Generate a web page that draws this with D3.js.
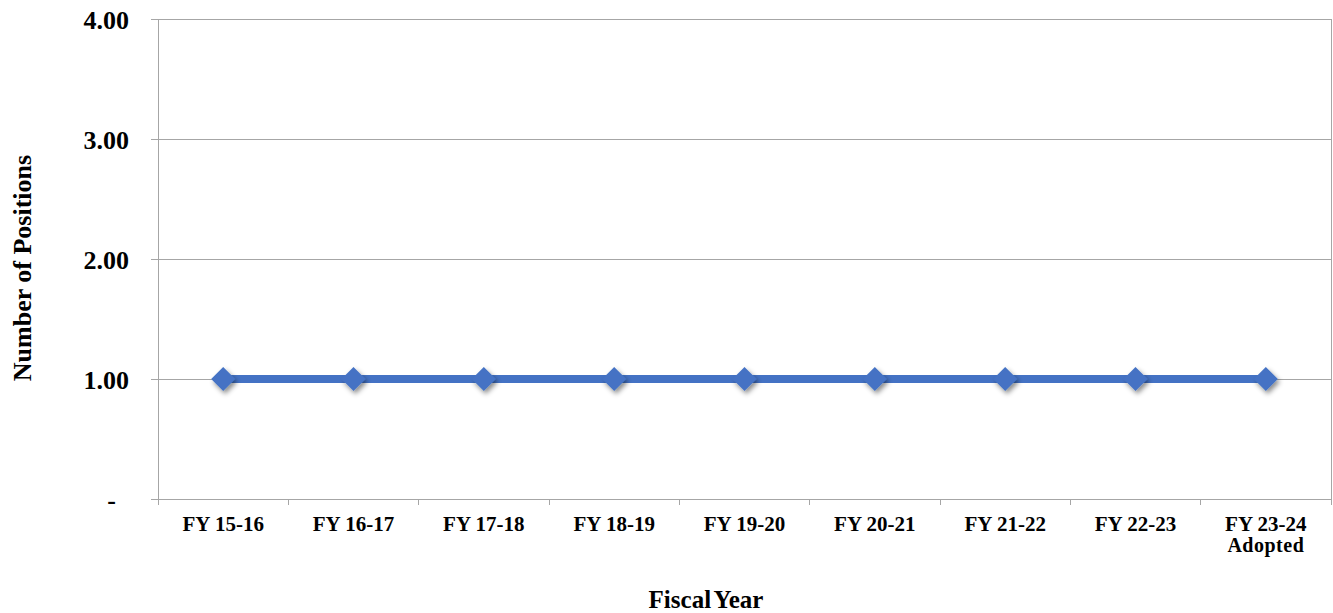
<!DOCTYPE html>
<html>
<head>
<meta charset="utf-8">
<script src="https://cdn.jsdelivr.net/npm/d3@7"></script>
<style>
  html, body { margin: 0; padding: 0; background: #fff; }
  svg { display: block; }
  text { font-family: "Liberation Serif", "Times New Roman", serif; font-weight: bold; fill: #000; }
</style>
</head>
<body>
<svg id="chart" width="1333" height="613"></svg>
<script>
// Positions per fiscal year
const categories = ["FY 15-16", "FY 16-17", "FY 17-18", "FY 18-19", "FY 19-20",
                    "FY 20-21", "FY 21-22", "FY 22-23", "FY 23-24\nAdopted"];
const positions = [1, 1, 1, 1, 1, 1, 1, 1, 1];
const yTicks = [0, 1, 2, 3, 4];
const yTickLabels = ["-", "1.00", "2.00", "3.00", "4.00"];

const svg = d3.select("#chart");
const margin = { left: 158, right: 2, top: 19, bottom: 114 };
const W = 1333, H = 613;
const x = d3.scaleBand().domain(categories).range([margin.left, W - margin.right]);
const y = d3.scaleLinear().domain([0, 4]).range([H - margin.bottom, margin.top]);

const grey = "#a6a6a6";

// drop shadow for the markers
const defs = svg.append("defs");
const f = defs.append("filter").attr("id", "shadow")
  .attr("x", "-50%").attr("y", "-50%").attr("width", "200%").attr("height", "200%");
f.append("feDropShadow").attr("dx", 2).attr("dy", 3).attr("stdDeviation", 2.5)
  .attr("flood-color", "#000").attr("flood-opacity", 0.45);

// horizontal gridlines
svg.append("g").selectAll("line").data(yTicks.filter(d => d > 0)).join("line")
  .attr("x1", margin.left).attr("x2", W - margin.right)
  .attr("y1", d => y(d)).attr("y2", d => y(d))
  .attr("stroke", grey).attr("stroke-width", 1).attr("shape-rendering", "crispEdges");

// right border line
svg.append("line")
  .attr("x1", W - margin.right).attr("x2", W - margin.right)
  .attr("y1", y(4)).attr("y2", y(0) + 6)
  .attr("stroke", grey).attr("shape-rendering", "crispEdges");

// y axis
const yAxis = d3.axisLeft(y).tickValues(yTicks).tickSize(7).tickPadding(22)
  .tickFormat((d, i) => yTickLabels[i]);
const gy = svg.append("g").attr("transform", `translate(${margin.left},0)`).call(yAxis);
gy.select(".domain").attr("stroke", grey);
gy.selectAll(".tick line").attr("stroke", grey);
gy.selectAll(".tick text").style("font-size", "26px")
  .attr("font-family", "Liberation Serif").attr("font-weight", "bold")
  .attr("fill", "#000").attr("dy", "0.35em");
gy.selectAll(".tick text").filter(d => d === 0).attr("x", -42);

// x axis with boundary ticks between categories
const gx = svg.append("g").attr("transform", `translate(0,${y(0)})`);
gx.append("line").attr("x1", margin.left).attr("x2", W - margin.right)
  .attr("stroke", grey).attr("shape-rendering", "crispEdges");
const bounds = categories.map(c => x(c)).concat([W - margin.right]);
gx.selectAll("line.bt").data(bounds).join("line").attr("class", "bt")
  .attr("x1", d => d).attr("x2", d => d).attr("y1", 0).attr("y2", 6)
  .attr("stroke", grey).attr("shape-rendering", "crispEdges");
const lbl = gx.selectAll("text.cat").data(categories).join("text").attr("class", "cat")
  .attr("text-anchor", "middle")
  .attr("transform", d => `translate(${x(d) + x.bandwidth() / 2},32)`)
  .style("font-size", "21px");
lbl.each(function(d) {
  const parts = d.split("\n");
  d3.select(this).selectAll("tspan").data(parts).join("tspan")
    .attr("x", 0).attr("dy", (p, i) => i === 0 ? 0 : 21)
    .style("font-size", (p, i) => i === 0 ? "21px" : "20px")
    .style("letter-spacing", (p, i) => i === 0 ? "0px" : "0.5px")
    .text(p => p);
});

// axis titles
svg.append("text").attr("x", 706).attr("y", 608).attr("text-anchor", "middle")
  .style("font-size", "25px").style("word-spacing", "-3px").text("Fiscal Year");
svg.append("text").attr("transform", "translate(31,268) rotate(-90)")
  .attr("text-anchor", "middle").style("font-size", "26px").text("Number of Positions");

// series line
const cx = d => x(d) + x.bandwidth() / 2;
const line = d3.line().x((d, i) => cx(categories[i])).y(d => y(d));
svg.append("path").datum(positions).attr("d", line)
  .attr("fill", "none").attr("stroke", "#4472C4").attr("stroke-width", 8);

// diamond markers
const s = 12;
svg.append("g").selectAll("path").data(positions).join("path")
  .attr("transform", (d, i) => `translate(${cx(categories[i])},${y(d)})`)
  .attr("d", `M0,${-s}L${s},0L0,${s}L${-s},0Z`)
  .attr("fill", "#4472C4").attr("filter", "url(#shadow)");
</script>
</body>
</html>
